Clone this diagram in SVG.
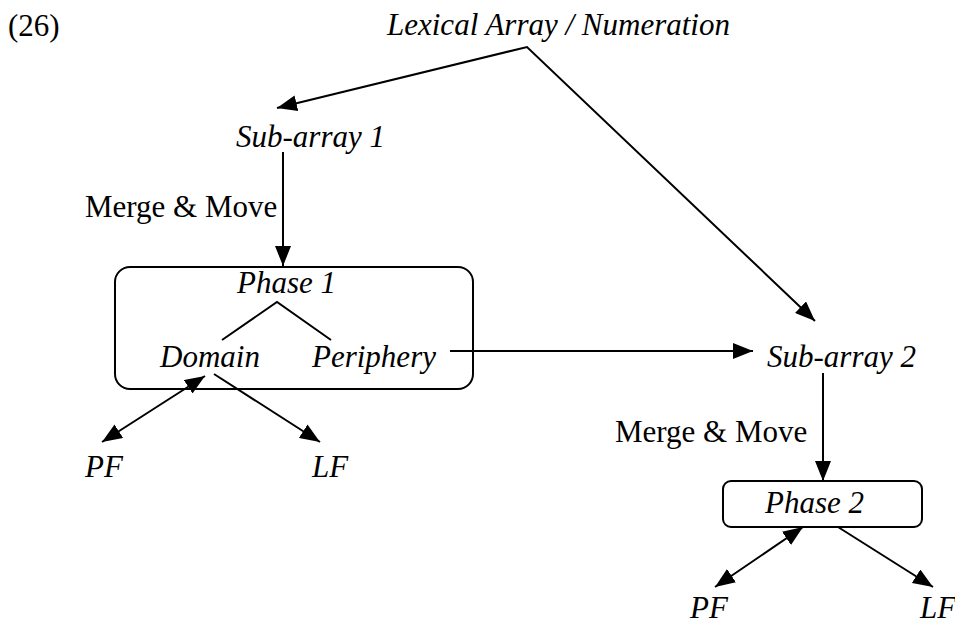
<svg xmlns="http://www.w3.org/2000/svg" width="955" height="625" viewBox="0 0 955 625">
  <style>
    text { font-family: "Liberation Serif", "Times New Roman", serif; font-size: 31px; fill: #000; }
    .it { font-style: italic; }
    .edge { fill: none; stroke: #000; stroke-width: 2; }
    .box { fill: #fff; stroke: #000; stroke-width: 2; }
  </style>
  <defs>
    <marker id="head" viewBox="0 0 20 16" markerUnits="userSpaceOnUse" markerWidth="20" markerHeight="16" refX="20" refY="8" orient="auto-start-reverse">
      <path d="M0,0 L20,8 L0,16 z" fill="#000"/>
    </marker>
  </defs>
  <rect width="955" height="625" fill="#fff"/>

  <text x="8" y="36">(26)</text>

  <g id="lexical-array">
    <text class="it" x="387" y="35">Lexical Array / Numeration</text>
  </g>
  <g id="sub-array-1">
    <text class="it" x="236" y="147">Sub-array 1</text>
  </g>
  <g id="phase-1">
    <rect class="box" x="115" y="267" width="358" height="122" rx="15"/>
    <text class="it" x="237" y="293">Phase 1</text>
    <path class="edge" d="M222,340 L277,302 L331,340"/>
    <text class="it" x="160" y="367">Domain</text>
    <text class="it" x="312" y="367">Periphery</text>
  </g>
  <g id="pf-1"><text class="it" x="85" y="477">PF</text></g>
  <g id="lf-1"><text class="it" x="312" y="477">LF</text></g>
  <g id="sub-array-2">
    <text class="it" x="767" y="367">Sub-array 2</text>
  </g>
  <g id="phase-2">
    <rect class="box" x="723" y="481" width="199" height="46" rx="8"/>
    <text class="it" x="765" y="513">Phase 2</text>
  </g>
  <g id="pf-2"><text class="it" x="690" y="618">PF</text></g>
  <g id="lf-2"><text class="it" x="920" y="618">LF</text></g>

  <g id="connectors">
    <path class="edge" d="M277,108 L527,47 L815,321" marker-start="url(#head)" marker-end="url(#head)"/>
    <path class="edge" d="M283,152 L283,266" marker-end="url(#head)"/>
    <text x="85" y="217">Merge &amp; Move</text>
    <path class="edge" d="M450,351 L753,351" marker-end="url(#head)"/>
    <path class="edge" d="M823,373 L823,481" marker-end="url(#head)"/>
    <text x="615" y="442">Merge &amp; Move</text>
    <path class="edge" d="M205,376 L102,442" marker-start="url(#head)" marker-end="url(#head)"/>
    <path class="edge" d="M214,374 L320,442" marker-end="url(#head)"/>
    <path class="edge" d="M803,527 L715,587" marker-start="url(#head)" marker-end="url(#head)"/>
    <path class="edge" d="M838,527 L933,587" marker-end="url(#head)"/>
  </g>
</svg>
